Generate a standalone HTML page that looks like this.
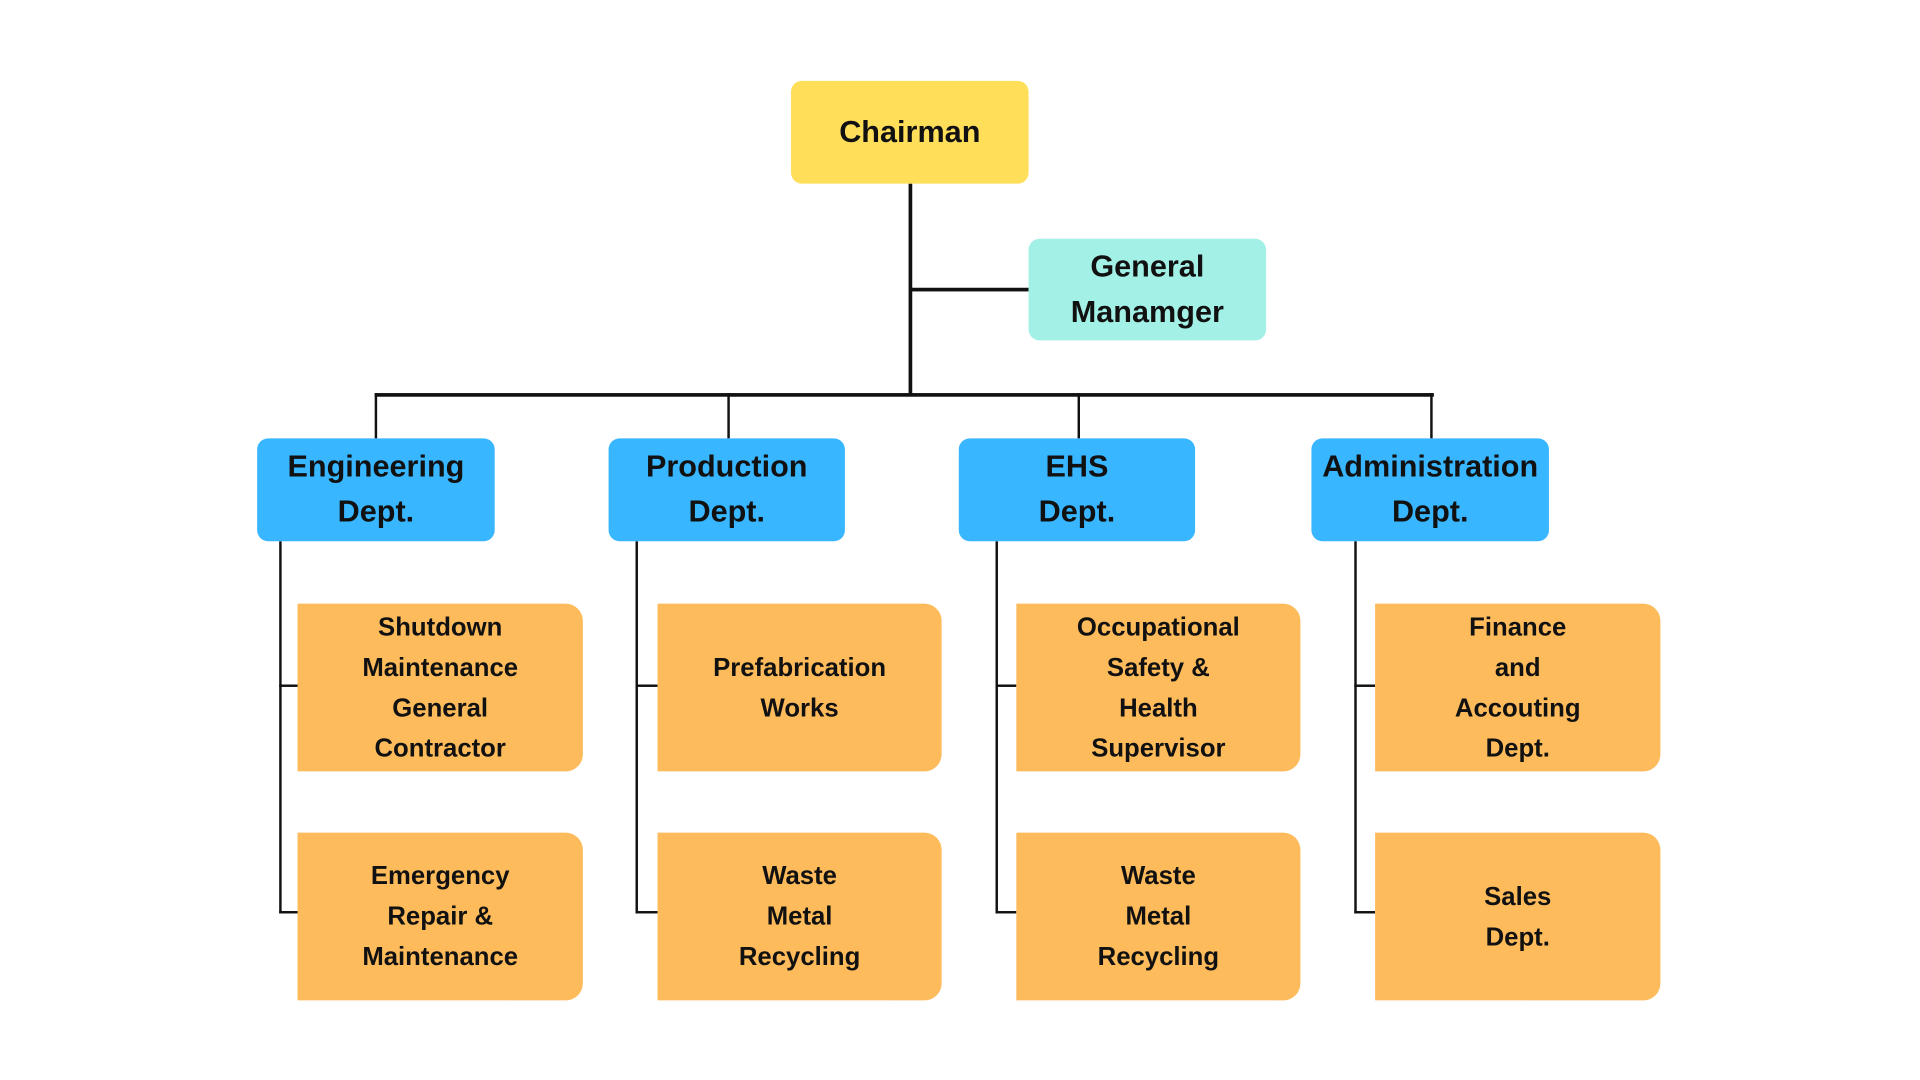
<!DOCTYPE html>
<html><head><meta charset="utf-8"><style>
html,body{margin:0;padding:0;background:#fff;width:1920px;height:1080px;overflow:hidden}
#c{position:absolute;left:0;top:0;width:1568px;height:882px;transform:scale(1.22449);transform-origin:0 0;font-family:"Liberation Sans",sans-serif;font-weight:bold;color:#111}
.b{position:absolute;display:flex;align-items:center;justify-content:center;text-align:center;box-sizing:border-box}
.t{font-size:25px;line-height:37px;border-radius:9px}
.o{background:#fdbb5b;font-size:21px;line-height:33px;border-radius:0 14px 14px 0}
.bl{background:#38b6ff}
.l{position:absolute;background:#111}
</style></head><body><div id="c">
<div class="l" style="left:742px;top:150px;width:3px;height:173px"></div>
<div class="l" style="left:743px;top:235px;width:97px;height:3px"></div>
<div class="l" style="left:306px;top:321px;width:865px;height:3px"></div>
<div class="l" style="left:306px;top:321px;width:2px;height:37px"></div>
<div class="l" style="left:594px;top:321px;width:2px;height:37px"></div>
<div class="l" style="left:880px;top:321px;width:2px;height:37px"></div>
<div class="l" style="left:1168px;top:321px;width:2px;height:37px"></div>

<div class="l" style="left:228px;top:442px;width:2px;height:304px"></div>
<div class="l" style="left:228px;top:559px;width:16px;height:2px"></div>
<div class="l" style="left:228px;top:744px;width:16px;height:2px"></div>
<div class="l" style="left:519px;top:442px;width:2px;height:304px"></div>
<div class="l" style="left:519px;top:559px;width:18px;height:2px"></div>
<div class="l" style="left:519px;top:744px;width:18px;height:2px"></div>
<div class="l" style="left:813px;top:442px;width:2px;height:304px"></div>
<div class="l" style="left:813px;top:559px;width:17px;height:2px"></div>
<div class="l" style="left:813px;top:744px;width:17px;height:2px"></div>
<div class="l" style="left:1106px;top:442px;width:2px;height:304px"></div>
<div class="l" style="left:1106px;top:559px;width:17px;height:2px"></div>
<div class="l" style="left:1106px;top:744px;width:17px;height:2px"></div>

<div class="b t" style="left:646px;top:66px;width:194px;height:84px;background:#ffde59">Chairman</div>
<div class="b t" style="left:840px;top:195px;width:194px;height:83px;background:#a3f0e6">General<br>Manamger</div>

<div class="b t bl" style="left:210px;top:358px;width:194px;height:84px">Engineering<br>Dept.</div>
<div class="b t bl" style="left:497px;top:358px;width:193px;height:84px">Production<br>Dept.</div>
<div class="b t bl" style="left:783px;top:358px;width:193px;height:84px">EHS<br>Dept.</div>
<div class="b t bl" style="left:1071px;top:358px;width:194px;height:84px">Administration<br>Dept.</div>

<div class="b o" style="left:243px;top:493px;width:233px;height:137px">Shutdown<br>Maintenance<br>General<br>Contractor</div>
<div class="b o" style="left:243px;top:680px;width:233px;height:137px">Emergency<br>Repair &amp;<br>Maintenance</div>
<div class="b o" style="left:537px;top:493px;width:232px;height:137px">Prefabrication<br>Works</div>
<div class="b o" style="left:537px;top:680px;width:232px;height:137px">Waste<br>Metal<br>Recycling</div>
<div class="b o" style="left:830px;top:493px;width:232px;height:137px">Occupational<br>Safety &amp;<br>Health<br>Supervisor</div>
<div class="b o" style="left:830px;top:680px;width:232px;height:137px">Waste<br>Metal<br>Recycling</div>
<div class="b o" style="left:1123px;top:493px;width:233px;height:137px">Finance<br>and<br>Accouting<br>Dept.</div>
<div class="b o" style="left:1123px;top:680px;width:233px;height:137px">Sales<br>Dept.</div>
</div></body></html>
